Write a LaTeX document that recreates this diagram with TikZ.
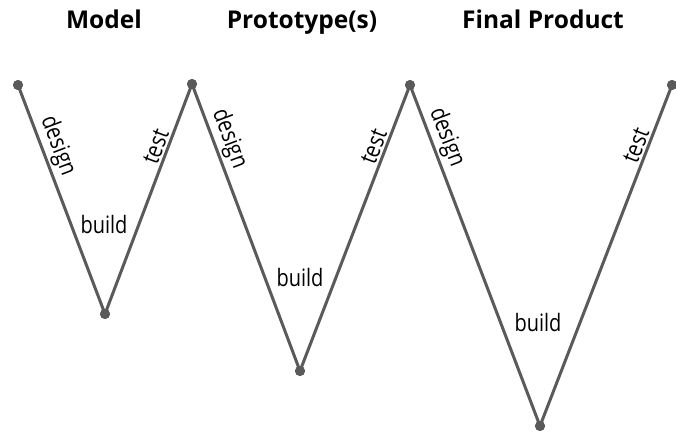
\documentclass[tikz,border=0pt]{standalone}
\usepackage{fontspec}
\setmainfont{Open Sans}
\newcommand{\tallfont}[1]{\scalebox{1}[1.2]{#1}}
\begin{document}
\begin{tikzpicture}[x=1pt,y=1pt,
  stage/.style={font=\fontsize{24.5}{28}\selectfont\bfseries, inner sep=0pt, anchor=base},
  phase/.style={font=\fontsize{20}{24}\selectfont, inner sep=2pt},
  zigline/.style={draw=zig, line width=3pt},
  dot/.style={circle, fill=zig, inner sep=0pt, minimum size=10pt}]
\definecolor{zig}{HTML}{5A5A5A}
\useasboundingbox (0,0) rectangle (676,435);

% turning points of the W
\node[dot] (a) at (18,350) {};
\node[dot] (b) at (105,121) {};
\node[dot] (c) at (192,351) {};
\node[dot] (d) at (300,64) {};
\node[dot] (e) at (410,350) {};
\node[dot] (f) at (540,9) {};
\node[dot] (g) at (672,350) {};

% stage titles, sharing one baseline
\node[stage] (t1) at (104,406) {Model};
\node[stage] (t2) at (302,406) {Prototype(s)};
\node[stage] (t3) at (543,406) {Final Product};

% the zigzag with its phase labels
\draw[zigline] (a.center) -- node[phase, sloped, above, pos=0.29] {\tallfont{design}} (b.center);
\draw[zigline] (b.center) -- node[phase, sloped, above, pos=0.71] {\tallfont{test}} (c.center);
\draw[zigline] (c.center) -- node[phase, sloped, above, pos=0.21] {\tallfont{design}} (d.center);
\draw[zigline] (d.center) -- node[phase, sloped, above, pos=0.77] {\tallfont{test}} (e.center);
\draw[zigline] (e.center) -- node[phase, sloped, above, pos=0.17] {\tallfont{design}} (f.center);
\draw[zigline] (f.center) -- node[phase, sloped, above, pos=0.81] {\tallfont{test}} (g.center);

% build labels inside each V
\node[phase] (b1) at (104,210) {\tallfont{build}};
\node[phase] (b2) at (300,157) {\tallfont{build}};
\node[phase] (b3) at (538,112) {\tallfont{build}};

% dots drawn over the line ends
\foreach \p in {a,b,c,d,e,f,g} \fill[zig] (\p) circle (5pt);
\end{tikzpicture}
\end{document}
